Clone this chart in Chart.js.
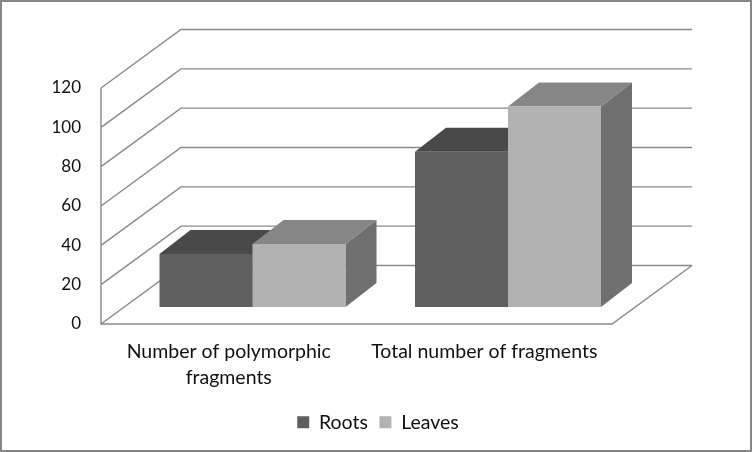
<!DOCTYPE html>
<html>
<head>
<meta charset="utf-8">
<title>Fragments in roots and leaves</title>
<script src="https://cdnjs.cloudflare.com/ajax/libs/Chart.js/4.4.1/chart.umd.min.js"></script>
<style>
  html, body { margin: 0; padding: 0; background: #fff; }
  canvas { display: block; }
</style>
</head>
<body>
<canvas id="myChart" width="752" height="452"></canvas>
<script>
// Data
var categories = [['Number of polymorphic', 'fragments'], 'Total number of fragments'];
var roots = [27, 79];
var leaves = [32, 102];
var yTicks = [0, 20, 40, 60, 80, 100, 120];

var fontName = 'Lato, "Open Sans", sans-serif';
var gridColor = '#8a8a8a';
var colors = {
  roots:  { front: '#5f5f5f', top: '#494949', side: '#5a5a5a' },
  leaves: { front: '#b2b2b2', top: '#868686', side: '#6f6f6f' }
};
var faces = [colors.roots, colors.leaves];

// fake 3D box: back wall offset, bar offset from the front plane, bar depth
var wall = { dx: 80, dy: -58.5 };
var barShift = { dx: 23.75, dy: -17 };
var barDepth = { dx: 31, dy: -24 };

function poly(ctx, pts, fill) {
  ctx.beginPath();
  ctx.moveTo(pts[0][0], pts[0][1]);
  for (var i = 1; i < pts.length; i++) ctx.lineTo(pts[i][0], pts[i][1]);
  ctx.closePath();
  ctx.fillStyle = fill;
  ctx.fill();
}

var box3d = {
  id: 'box3d',
  beforeDraw: function (chart) {
    var ctx = chart.ctx;
    ctx.save();
    ctx.fillStyle = '#fff';
    ctx.fillRect(0, 0, chart.width, chart.height);
    ctx.strokeStyle = '#868686';
    ctx.lineWidth = 2;
    ctx.strokeRect(1, 1, chart.width - 2, chart.height - 2);
    ctx.restore();
  },
  afterLayout: function (chart) {
    // centre the legend on the whole picture, not on the plot
    chart.legend.left = 4;
    chart.legend.right = chart.width;
    chart.legend.adjustHitBoxes();
  },
  beforeDatasetsDraw: function (chart) {
    var ctx = chart.ctx, a = chart.chartArea, y = chart.scales.y;
    ctx.save();
    ctx.strokeStyle = gridColor;
    ctx.lineWidth = 1.4;
    ctx.beginPath();
    yTicks.forEach(function (t) {
      var py = y.getPixelForValue(t);
      ctx.moveTo(a.left, py);
      ctx.lineTo(a.left + wall.dx, py + wall.dy);
      ctx.lineTo(a.right + wall.dx, py + wall.dy);
    });
    // front of the floor and the upright axis
    var y0 = y.getPixelForValue(0);
    ctx.moveTo(a.left, y.getPixelForValue(yTicks[yTicks.length - 1]));
    ctx.lineTo(a.left, y0);
    ctx.lineTo(a.right, y0);
    ctx.lineTo(a.right + wall.dx, y0 + wall.dy);
    ctx.stroke();
    ctx.restore();

    // top and side faces come from the library's own bar elements
    ctx.save();
    ctx.translate(barShift.dx, barShift.dy);
    chart.data.datasets.forEach(function (ds, i) {
      chart.getDatasetMeta(i).data.forEach(function (bar) {
        var l = bar.x - bar.width / 2, r = bar.x + bar.width / 2;
        var dx = barDepth.dx, dy = barDepth.dy;
        poly(ctx, [[r, bar.y], [r + dx, bar.y + dy], [r + dx, bar.base + dy], [r, bar.base]], faces[i].side);
        poly(ctx, [[l, bar.y], [l + dx, bar.y + dy], [r + dx, bar.y + dy], [r, bar.y]], faces[i].top);
      });
    });
    ctx.restore();

    ctx.save();
    ctx.translate(barShift.dx, barShift.dy);
  },
  afterDatasetsDraw: function (chart) {
    chart.ctx.restore();
  }
};

new Chart(document.getElementById('myChart'), {
  type: 'bar',
  data: {
    labels: categories,
    datasets: [
      { label: 'Roots', data: roots, backgroundColor: colors.roots.front },
      { label: 'Leaves', data: leaves, backgroundColor: colors.leaves.front }
    ]
  },
  plugins: [box3d],
  options: {
    responsive: false,
    animation: false,
    devicePixelRatio: 1,
    layout: { padding: { top: 88, right: 140, bottom: 10, left: 0 } },
    datasets: { bar: { barPercentage: 1, categoryPercentage: 0.728 } },
    scales: {
      x: {
        afterFit: function (s) { s.height = 77; },
        grid: { display: false },
        border: { display: false },
        ticks: {
          color: '#111', font: { family: fontName, size: 19.5, lineHeight: 1.33 },
          maxRotation: 0, autoSkip: false, padding: 7
        }
      },
      y: {
        min: 0, max: 120,
        afterFit: function (s) { s.width = 101; },
        grid: { display: false },
        border: { display: false },
        ticks: { stepSize: 20, color: '#111', padding: 12, font: { family: fontName, size: 17 } }
      }
    },
    plugins: {
      tooltip: { enabled: false },
      legend: {
        position: 'bottom',
        labels: { color: '#111', boxWidth: 12, boxHeight: 12, padding: 11.5, font: { family: fontName, size: 19.5 } }
      }
    }
  }
});
</script>
</body>
</html>
